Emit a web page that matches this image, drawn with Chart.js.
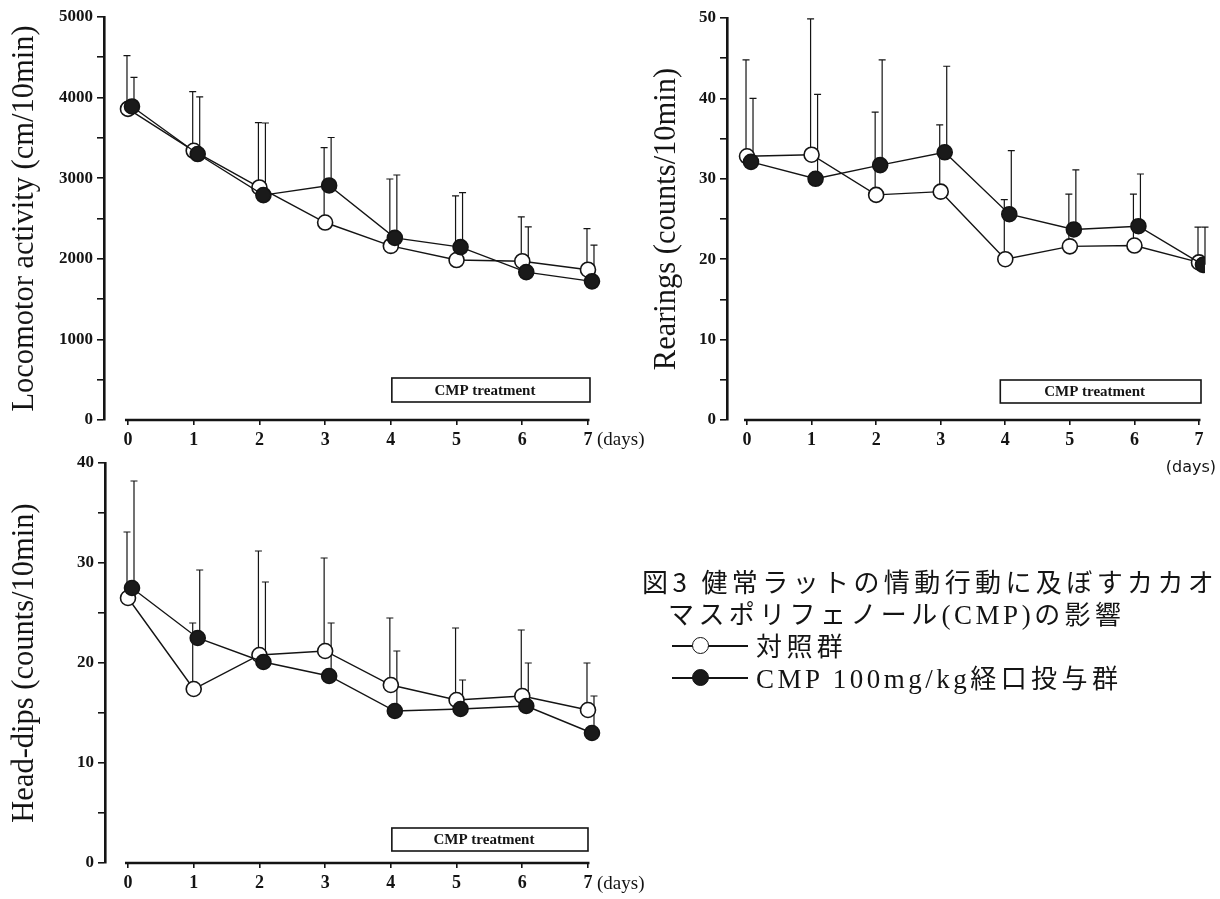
<!DOCTYPE html>
<html><head><meta charset="utf-8">
<script src="https://cdn.jsdelivr.net/npm/chart.js@4.4.1/dist/chart.umd.min.js"></script>
<style>
html,body{margin:0;padding:0;background:#fff;width:1220px;height:899px;overflow:hidden;}
canvas{position:absolute;}
.cap{position:absolute;font-family:"Noto Sans CJK JP","Noto Sans CJK SC",sans-serif;font-size:26px;line-height:32px;letter-spacing:4.4px;color:#141414;white-space:nowrap;}
.ser{font-family:"Liberation Serif",serif;font-size:27px;letter-spacing:3.5px;}
.sym{display:inline-block;position:relative;width:76px;height:32px;vertical-align:top;margin-right:8px;}
.sym .ln{position:absolute;left:0;right:0;top:16px;height:1.5px;background:#141414;}
.sym .pt{position:absolute;left:20px;top:8px;width:15px;height:15px;border:1.6px solid #141414;border-radius:50%;background:#fff;}
.sym .pt.f{background:#1a1a1a;}
</style></head>
<body>
<canvas id="c1" width="680" height="455" style="left:0;top:0"></canvas>
<canvas id="c2" width="590" height="480" style="left:630px;top:0"></canvas>
<canvas id="c3" width="680" height="454" style="left:0;top:445px"></canvas>

<div class="cap" style="left:642px;top:565px">図3&nbsp;健常ラットの情動行動に及ぼすカカオ</div>
<div class="cap" style="left:668px;top:597px">マスポリフェノール<span class="ser">(CMP)</span>の影響</div>
<div class="cap" style="left:672px;top:629px"><span class="sym"><i class="ln"></i><i class="pt"></i></span>対照群</div>
<div class="cap" style="left:672px;top:661px"><span class="sym"><i class="ln"></i><i class="pt f"></i></span><span class="ser">CMP 100mg/kg</span>経口投与群</div>

<script>
// ---- data ----
const days = [0, 1, 2, 3, 4, 5, 6, 7];
const seriesNames = ['対照群', 'CMP 100mg/kg経口投与群'];

const locoControl   = [3860, 3340, 2885, 2450, 2160, 1985, 1970, 1865];
const locoControlSD = [660, 735, 805, 930, 830, 795, 550, 510];
const locoCMP       = [3890, 3300, 2790, 2910, 2260, 2145, 1835, 1720];
const locoCMPSD     = [360, 710, 895, 595, 780, 675, 560, 450];

const rearControl   = [32.8, 33.0, 28.0, 28.4, 20.0, 21.6, 21.7, 19.6];
const rearControlSD = [12.0, 16.9, 10.3, 8.3, 7.4, 6.5, 6.4, 4.4];
const rearCMP       = [32.1, 30.0, 31.7, 33.3, 25.6, 23.7, 24.1, 19.3];
const rearCMPSD     = [7.9, 10.5, 13.1, 10.7, 7.9, 7.4, 6.5, 4.7];

const headControl   = [26.5, 17.4, 20.8, 21.2, 17.8, 16.3, 16.7, 15.3];
const headControlSD = [6.6, 6.6, 10.4, 9.3, 6.7, 7.2, 6.6, 4.7];
const headCMP       = [27.5, 22.5, 20.1, 18.7, 15.2, 15.4, 15.7, 13.0];
const headCMPSD     = [10.7, 6.8, 8.0, 5.3, 6.0, 2.9, 4.3, 3.7];

const locoTicks = [0, 1000, 2000, 3000, 4000, 5000];
const rearTicks = [0, 10, 20, 30, 40, 50];
const headTicks = [0, 10, 20, 30, 40];
const treatmentLabel = 'CMP treatment';
const treatmentDays = [4, 7];
const daysLabel = '(days)';

// ---- drawing helpers ----
const INK = '#141414';
const decor = {
  id: 'decor',
  afterDatasetsUpdate(chart) {
    chart.data.datasets.forEach((ds, i) => {
      if (!ds.dodge) return;
      chart.getDatasetMeta(i).data.forEach(p => { p.x += ds.dodge; });
    });
  },
  beforeDatasetsDraw(chart, args, o) {
    const {ctx, chartArea: ca, scales: {x, y}} = chart;
    ctx.save();
    ctx.strokeStyle = INK; ctx.fillStyle = INK;
    // x axis line
    ctx.lineWidth = 2.6;
    ctx.beginPath();
    ctx.moveTo(x.getPixelForValue(days[0]) - 3, ca.bottom);
    ctx.lineTo(x.getPixelForValue(days[days.length - 1]) + 1.5, ca.bottom);
    ctx.stroke();
    // treatment box
    const bx0 = x.getPixelForValue(treatmentDays[0]) + o.boxDx[0];
    const bx1 = x.getPixelForValue(treatmentDays[1]) + o.boxDx[1];
    const by0 = ca.bottom - o.boxY[0], by1 = ca.bottom - o.boxY[1];
    ctx.lineWidth = 1.6;
    ctx.fillStyle = '#fff';
    ctx.fillRect(bx0, by0, bx1 - bx0, by1 - by0);
    ctx.strokeRect(bx0, by0, bx1 - bx0, by1 - by0);
    ctx.fillStyle = INK;
    ctx.font = 'bold 15px "Liberation Serif"';
    ctx.textAlign = 'center'; ctx.textBaseline = 'middle';
    ctx.fillText(treatmentLabel, (bx0 + bx1) / 2 - 6, (by0 + by1) / 2 + 1);
    // days label
    ctx.font = o.daysFont;
    ctx.textAlign = o.daysAlign;
    ctx.fillText(daysLabel, x.getPixelForValue(days[days.length - 1]) + o.daysDx, ca.bottom + o.daysDy);
    // error bars (upper SD)
    ctx.lineWidth = 1.2;
    chart.data.datasets.forEach((ds, i) => {
      const meta = chart.getDatasetMeta(i);
      meta.data.forEach((p, j) => {
        const top = y.getPixelForValue(ds.data[j].y + ds.sd[j]);
        const ex = p.x + ds.errDx;
        ctx.beginPath();
        ctx.moveTo(ex, p.y); ctx.lineTo(ex, top);
        ctx.moveTo(ex - 3.5, top); ctx.lineTo(ex + 3.5, top);
        ctx.stroke();
      });
    });
    ctx.restore();
  }
};

function makePanel(id, p) {
  const pts = arr => arr.map((v, i) => ({x: days[i], y: v}));
  const base = {borderColor: INK, borderWidth: 1.4, pointRadius: 7.5, pointHoverRadius: 7.5,
    pointBorderColor: INK, pointBorderWidth: 1.6, tension: 0, fill: false};
  new Chart(document.getElementById(id), {
    type: 'line',
    data: {datasets: [
      Object.assign({}, base, {label: seriesNames[0], data: pts(p.control), sd: p.controlSD, errDx: -1,
        pointBackgroundColor: '#fff', order: 1}),
      Object.assign({}, base, {label: seriesNames[1], data: pts(p.cmp), sd: p.cmpSD, errDx: 2, dodge: 4,
        pointBackgroundColor: '#1a1a1a', order: 0})
    ]},
    options: {
      responsive: false, animation: false, devicePixelRatio: 1,
      layout: {padding: p.pad},
      plugins: {legend: {display: false}, tooltip: {enabled: false}, decor: p.decor},
      scales: {
        x: {type: 'linear', min: p.xMin, max: p.xMax,
          afterBuildTicks: s => { s.ticks = days.map(v => ({value: v})); },
          afterFit: s => { s.height = p.xH; },
          border: {display: false},
          grid: {drawOnChartArea: false, drawTicks: true, tickLength: 5, color: INK, lineWidth: 1.6},
          ticks: {color: INK, font: {family: 'Liberation Serif', size: 18, weight: 'bold'}, padding: 5, maxRotation: 0, autoSkip: false}
        },
        y: {min: p.yTicks[0], max: p.yTicks[p.yTicks.length - 1],
          afterFit: s => { s.width = p.yW; },
          afterBuildTicks: s => {
            const t = [];
            const step = (p.yTicks[1] - p.yTicks[0]) / 2;
            for (let v = p.yTicks[0]; v <= p.yTicks[p.yTicks.length - 1] + 1e-9; v += step) t.push({value: +v.toFixed(6)});
            s.ticks = t;
          },
          border: {display: true, color: INK, width: 2.6},
          grid: {drawOnChartArea: false, drawTicks: true, tickLength: 7, color: INK, lineWidth: 1.6},
          ticks: {color: INK, font: {family: 'Liberation Serif', size: 17, weight: 'bold'}, padding: 4, autoSkip: false,
            callback: v => p.yTicks.includes(v) ? String(v) : ''},
          title: {display: true, text: p.title, color: INK,
            font: {family: 'Liberation Serif', size: 30.5}, padding: {top: p.titlePad, bottom: 0}}
        }
      }
    },
    plugins: [decor]
  });
}

makePanel('c1', {control: locoControl, controlSD: locoControlSD, cmp: locoCMP, cmpSD: locoCMPSD,
  yTicks: locoTicks, title: 'Locomotor activity (cm/10min)', titlePad: 7,
  pad: {top: 17, right: 70, bottom: 0, left: 0}, yW: 104, xH: 35, xMin: -0.365, xMax: 7.335,
  decor: {boxDx: [1, 2], boxY: [42, 18], daysFont: '19px "Liberation Serif"', daysAlign: 'left', daysDx: 9, daysDy: 20}});

makePanel('c2', {control: rearControl, controlSD: rearControlSD, cmp: rearCMP, cmpSD: rearCMPSD,
  yTicks: rearTicks, title: 'Rearings (counts/10min)', titlePad: 19,
  pad: {top: 18, right: 15, bottom: 0, left: 0}, yW: 97, xH: 60, xMin: -0.31, xMax: 7.093,
  decor: {boxDx: [-5, 2], boxY: [40, 17], daysFont: '16px "DejaVu Sans"', daysAlign: 'right', daysDx: 17, daysDy: 48}});

makePanel('c3', {control: headControl, controlSD: headControlSD, cmp: headCMP, cmpSD: headCMPSD,
  yTicks: headTicks, title: 'Head-dips (counts/10min)', titlePad: 7,
  pad: {top: 18, right: 70, bottom: 0, left: 0}, yW: 105, xH: 36, xMin: -0.35, xMax: 7.335,
  decor: {boxDx: [1, 0], boxY: [35, 12], daysFont: '19px "Liberation Serif"', daysAlign: 'left', daysDx: 9, daysDy: 21}});
</script>
</body></html>
